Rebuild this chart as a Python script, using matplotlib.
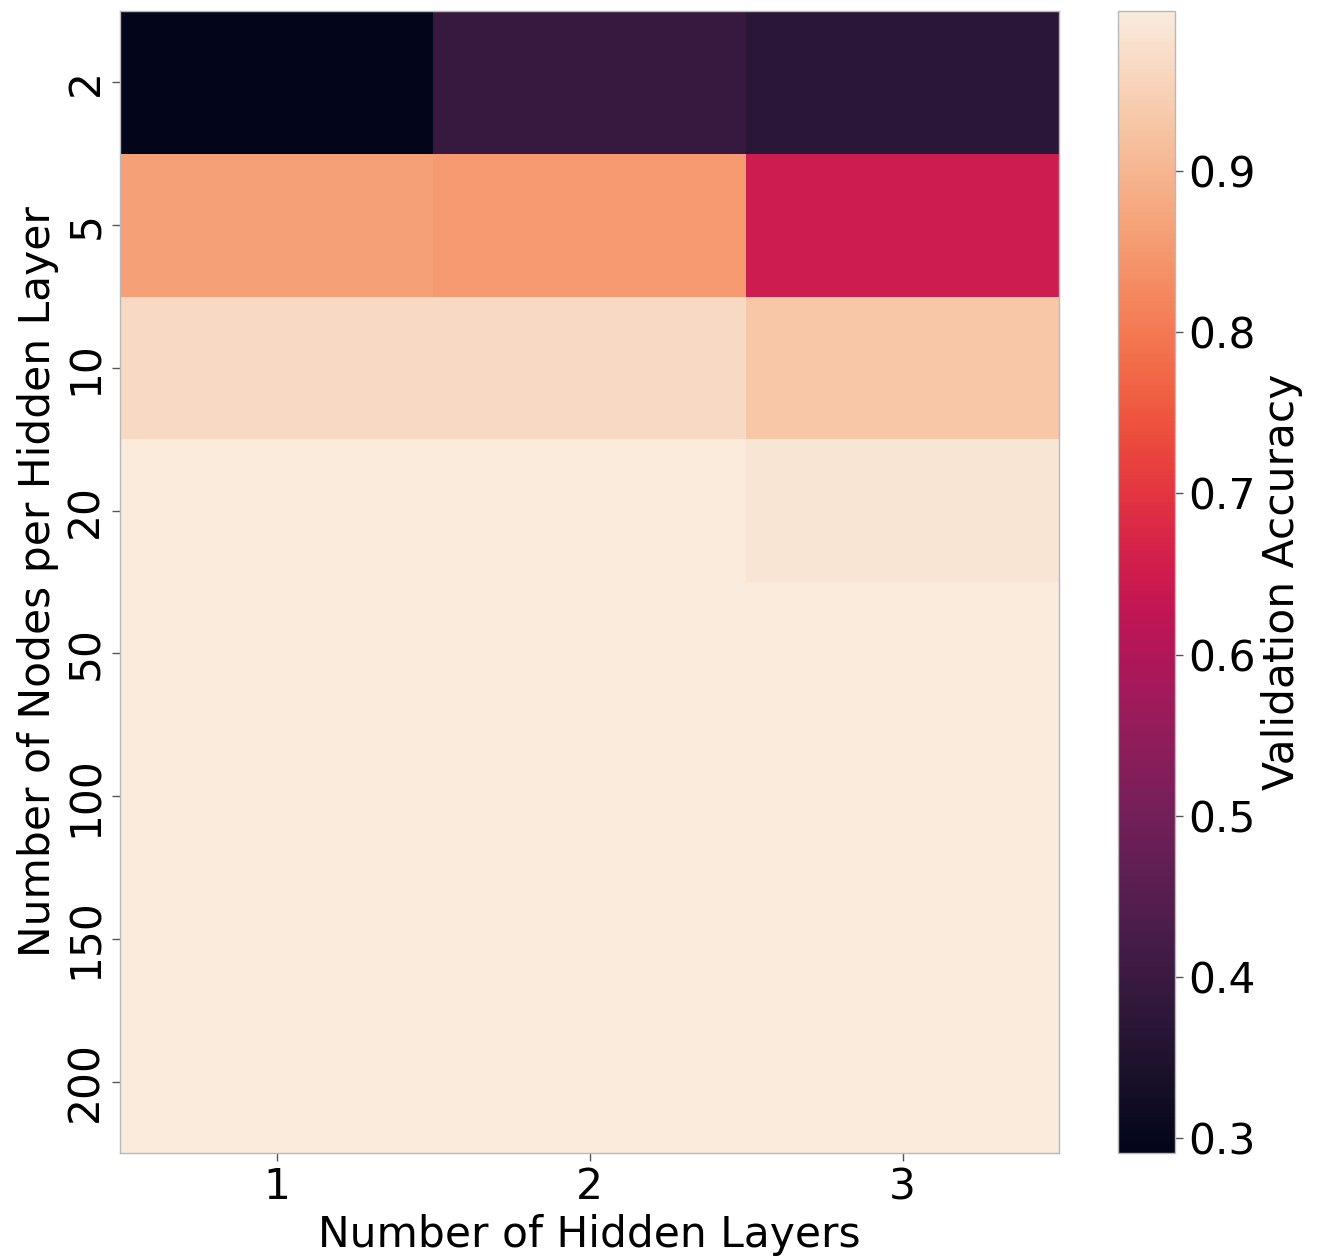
import numpy as np
import pandas as pd
import matplotlib
matplotlib.use('Agg')
import matplotlib.pyplot as plt
import seaborn as sns

# validation accuracy for each network shape
hidden_layers = [1, 2, 3]
nodes_per_layer = [2, 5, 10, 20, 50, 100, 150, 200]
acc_1_layer = [0.291, 0.863, 0.965, 0.997, 0.998, 0.998, 0.998, 0.998]
acc_2_layers = [0.395, 0.855, 0.964, 0.997, 0.998, 0.999, 0.998, 0.998]
acc_3_layers = [0.370, 0.650, 0.930, 0.986, 0.997, 0.997, 0.997, 0.997]

acc_df = pd.DataFrame({1: acc_1_layer, 2: acc_2_layers, 3: acc_3_layers},
                      index=nodes_per_layer)

fs = 30.5
edge = '#b8b8b8'

fig = plt.figure(figsize=(13.23, 12.6), dpi=100)
ax = fig.add_axes([120/1323, 107/1260, 939/1323, 1142/1260])
cax = fig.add_axes([1118/1323, 107/1260, 57/1323, 1142/1260])

sns.heatmap(acc_df, ax=ax, cbar_ax=cax, cmap='rocket',
            cbar_kws={'label': 'Validation Accuracy'})

# put the thin grey frame back on the heatmap and colorbar
for s in ax.spines.values():
    s.set_visible(True)
    s.set_color(edge)
    s.set_linewidth(1)
cbar = ax.collections[0].colorbar
cbar.outline.set_visible(True)
cbar.outline.set_edgecolor(edge)
cbar.outline.set_linewidth(1)
cbar.set_ticks([0.3, 0.4, 0.5, 0.6, 0.7, 0.8, 0.9])
cbar.ax.tick_params(length=6, width=1, color='#555555', labelsize=fs)
cbar.set_label('Validation Accuracy', fontsize=fs)

ax.set_xlabel('Number of Hidden Layers', fontsize=fs)
ax.set_ylabel('Number of Nodes per Hidden Layer', fontsize=fs)
ax.tick_params(axis='both', length=6, width=1, color='#555555', labelsize=fs)
plt.setp(ax.get_yticklabels(), rotation=90, va='center')
plt.setp(ax.get_xticklabels(), rotation=0)

fig.savefig('out.png', dpi=100)
